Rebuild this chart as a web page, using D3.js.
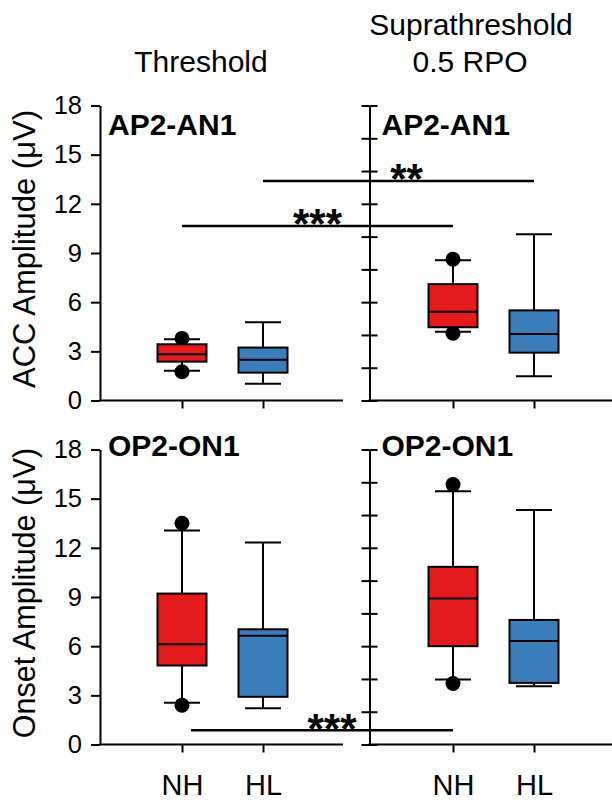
<!DOCTYPE html>
<html>
<head>
<meta charset="utf-8">
<script src="https://cdn.jsdelivr.net/npm/d3@7/dist/d3.min.js"></script>
<style>
  body { margin: 0; background: #fff; }
  svg { display: block; }
  text { font-family: "Liberation Sans", Arial, sans-serif; fill: #000; }
</style>
</head>
<body>
<svg id="chart" width="612" height="800"></svg>
<script>
(function() {
    'use strict';

    // Data
    const groups = ['NH', 'HL'];
    const conditions = ['Threshold', 'Suprathreshold'];
    const measures = ['ACC Amplitude (\u03BCV)', 'Onset Amplitude (\u03BCV)'];
    const panelLabels = ['AP2-AN1', 'OP2-ON1'];
    const yTickValues = [0, 3, 6, 9, 12, 15, 18];
    const yMinorTicks = [0, 2, 4, 6, 8, 10, 12, 14, 16, 18];

    // [lower whisker, Q1, median, Q3, upper whisker] per group (NH, HL)
    const accThreshold = [[1.81, 2.37, 2.82, 3.43, 3.74], [1.02, 1.70, 2.48, 3.23, 4.77]];
    const accSupra = [[4.20, 4.47, 5.42, 7.10, 8.56], [1.48, 2.92, 4.06, 5.50, 10.14]];
    const onsetThreshold = [[2.54, 4.82, 6.12, 9.21, 13.06], [2.21, 2.91, 6.63, 7.03, 12.32]];
    const onsetSupra = [[3.97, 6.00, 8.91, 10.84, 15.46], [3.56, 3.76, 6.32, 7.60, 14.31]];

    // outlier points per group
    const accThresholdOut = [[1.75, 3.79], []];
    const accSupraOut = [[4.10, 8.62], []];
    const onsetThresholdOut = [[2.40, 13.50], []];
    const onsetSupraOut = [[3.72, 15.86], []];

    // significance bars: threshold vs suprathreshold, same group
    const sigRows = [0, 0, 1];
    const sigGroups = ['NH', 'HL', 'NH'];
    const sigValues = [10.65, 13.4, 0.87];
    const sigLabels = ['***', '**', '***'];

    // Layout
    const colors = { NH: '#e31b1d', HL: '#3a7dba' };
    const rowRange = [[400.5, 105.5], [744.5, 449.5]];
    const colExtent = [[100, 343], [369.5, 612]];
    const colPoints = [[182, 263], [453, 534]];
    const boxW = 49, capW = 36, dotR = 7.5;

    const svg = d3.select('#chart');

    const yScales = rowRange.map(r => d3.scaleLinear().domain([0, 18]).range(r));
    const xScales = colPoints.map(r => d3.scalePoint().domain(groups).range(r));

    const panels = [
        { row: 0, col: 0, stats: accThreshold, out: accThresholdOut },
        { row: 0, col: 1, stats: accSupra, out: accSupraOut },
        { row: 1, col: 0, stats: onsetThreshold, out: onsetThresholdOut },
        { row: 1, col: 1, stats: onsetSupra, out: onsetSupraOut }
    ];

    // Column titles
    svg.append('text').attr('x', 201).attr('y', 72).attr('text-anchor', 'middle')
        .attr('font-size', '30px').text(conditions[0]);
    svg.append('text').attr('x', 471).attr('y', 35).attr('text-anchor', 'middle')
        .attr('font-size', '30px').text(conditions[1]);
    svg.append('text').attr('x', 470).attr('y', 72).attr('text-anchor', 'middle')
        .attr('font-size', '30px').text('0.5 RPO');

    // Y titles
    const titleSize = ['31px', '30.5px'];
    measures.forEach((m, i) => {
        const r = rowRange[i];
        svg.append('text')
            .attr('transform', `translate(35,${(r[0] + r[1]) / 2 - 4}) rotate(-90)`)
            .attr('text-anchor', 'middle')
            .attr('font-size', titleSize[i])
            .text(m);
    });

    panels.forEach(p => {
        const y = yScales[p.row];
        const x = xScales[p.col];
        const g = svg.append('g');

        // axes
        if (p.col === 0) {
            const ax = g.append('g')
                .attr('transform', `translate(${colExtent[0][0]},0)`)
                .call(d3.axisLeft(y).tickValues(yTickValues).tickSize(9).tickSizeOuter(0).tickPadding(9));
            ax.selectAll('text').attr('font-size', '25.5px').attr('font-family', '"Liberation Sans", Arial, sans-serif');
            ax.selectAll('line,path').attr('stroke-width', 2);
        } else {
            const xa = colExtent[1][0];
            const axL = g.append('g').attr('transform', `translate(${xa},0)`)
                .call(d3.axisLeft(y).tickValues(yMinorTicks).tickSize(8).tickSizeOuter(0).tickFormat(''));
            const axR = g.append('g').attr('transform', `translate(${xa},0)`)
                .call(d3.axisRight(y).tickValues(yMinorTicks).tickSize(8).tickSizeOuter(0).tickFormat(''));
            axR.select('.domain').remove();
            axL.selectAll('line,path').attr('stroke-width', 2);
            axR.selectAll('line').attr('stroke-width', 2);
        }

        const xb = g.append('g')
            .attr('transform', `translate(0,${y(0)})`)
            .call(d3.axisBottom(x).tickSize(8).tickSizeOuter(0).tickPadding(22)
                .tickFormat(p.row === 1 ? null : ''));
        xb.select('.domain').remove();
        xb.selectAll('line').attr('stroke-width', 2);
        xb.selectAll('text').attr('font-size', '29px').attr('font-family', '"Liberation Sans", Arial, sans-serif');
        g.append('line')
            .attr('x1', colExtent[p.col][0] - 1).attr('x2', colExtent[p.col][1])
            .attr('y1', y(0)).attr('y2', y(0))
            .attr('stroke', '#000').attr('stroke-width', 2);

        // panel label
        g.append('text')
            .attr('x', colExtent[p.col][0] + (p.col === 0 ? 8 : 12))
            .attr('y', p.row === 0 ? y(18) + 29 : y(18) + 6)
            .attr('font-size', '30px')
            .attr('font-weight', 'bold')
            .text(panelLabels[p.row]);

        // boxes
        groups.forEach((grp, gi) => {
            const s = p.stats[gi];
            const cx = x(grp);
            const bg = g.append('g');

            bg.selectAll('circle.out')
                .data(p.out[gi])
                .enter().append('circle')
                .attr('cx', cx).attr('cy', d => y(d)).attr('r', dotR)
                .attr('fill', '#000');

            bg.append('line').attr('x1', cx).attr('x2', cx)
                .attr('y1', y(s[0])).attr('y2', y(s[4]))
                .attr('stroke', '#000').attr('stroke-width', 2);
            [s[0], s[4]].forEach(v => {
                bg.append('line').attr('x1', cx - capW / 2).attr('x2', cx + capW / 2)
                    .attr('y1', y(v)).attr('y2', y(v))
                    .attr('stroke', '#000').attr('stroke-width', 2);
            });
            bg.append('rect')
                .attr('x', cx - boxW / 2).attr('width', boxW)
                .attr('y', y(s[3])).attr('height', y(s[1]) - y(s[3]))
                .attr('fill', colors[grp]).attr('stroke', '#000').attr('stroke-width', 2);
            bg.append('line').attr('x1', cx - boxW / 2).attr('x2', cx + boxW / 2)
                .attr('y1', y(s[2])).attr('y2', y(s[2]))
                .attr('stroke', '#000').attr('stroke-width', 2);
        });
    });

    // significance bars
    const sigStartShift = [0, 0, 9];
    const sigLabelShift = [0, 8, 10];
    sigValues.forEach((v, i) => {
        const y = yScales[sigRows[i]];
        const x1 = xScales[0](sigGroups[i]) + sigStartShift[i];
        const x2 = xScales[1](sigGroups[i]);
        svg.append('line')
            .attr('x1', x1).attr('x2', x2)
            .attr('y1', y(v)).attr('y2', y(v))
            .attr('stroke', '#000').attr('stroke-width', 2.5);
        svg.append('text')
            .attr('x', (x1 + x2) / 2 + sigLabelShift[i])
            .attr('y', y(v) + 12.5)
            .attr('text-anchor', 'middle')
            .attr('font-size', '42px')
            .attr('font-weight', 'bold')
            .text(sigLabels[i]);
    });
})();
</script>
</body>
</html>
